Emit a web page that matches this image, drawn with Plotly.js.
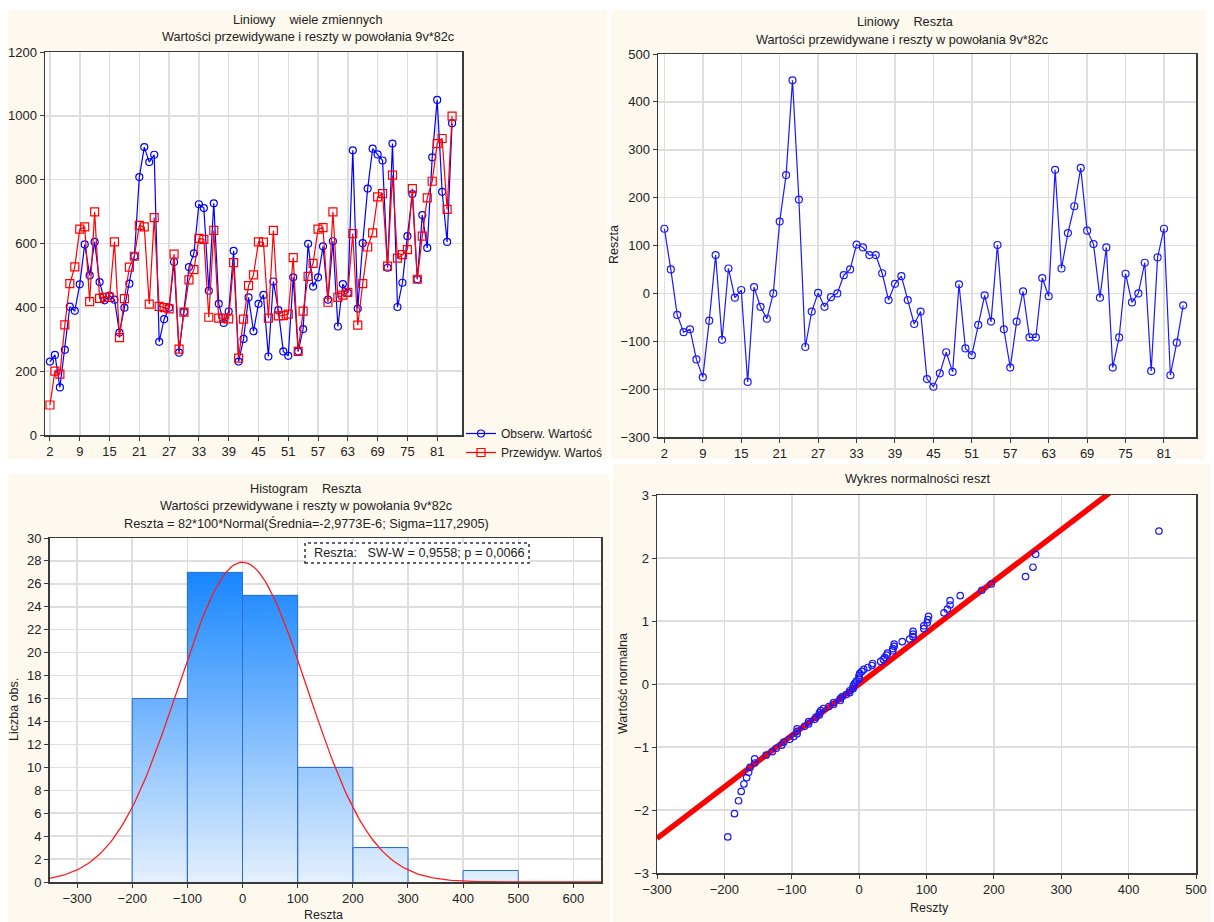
<!DOCTYPE html>
<html><head><meta charset="utf-8">
<script src="https://cdn.plot.ly/plotly-3.0.1.min.js"></script>
<style>html,body{margin:0;padding:0;background:#fff;} #chart{width:1214px;height:922px;}</style>
</head><body><div id="chart"></div>
<script>
// ---------- DATA ----------
const tickPositions = [1, 7, 13, 19, 25, 31, 37, 43, 49, 55, 61, 67, 73, 79];
const tickLabels = ['2','9','15','21','27','33','39','45','51','57','63','69','75','81'];

const observed = [230,251,149,267,402,389,472,597,500,605,479,422,437,424,321,399,474,560,808,902,
  855,878,292,363,399,542,258,385,526,569,723,711,452,726,411,351,387,577,230,301,
  431,325,411,439,246,481,391,262,248,494,262,332,599,465,494,591,424,607,340,473,
  445,892,396,601,772,897,879,860,524,913,401,477,623,755,488,689,586,870,1050,762,
  605,977];
const predicted = [94,200,191,345,474,527,645,652,418,699,428,431,431,605,305,427,526,560,657,652,
  410,681,403,399,395,567,269,385,486,518,616,613,369,641,366,366,364,540,241,363,
  468,502,605,604,366,641,373,374,379,556,262,388,497,538,645,650,416,699,431,438,
  447,631,344,474,589,633,746,756,529,814,554,565,581,772,488,623,743,795,913,929,
  707,999];
const residuals = [135,50,-45,-81,-75,-138,-175,-57,80,-97,52,-9,7,-185,13,-28,-53,0,150,247,
  445,196,-112,-38,1,-28,-8,0,38,50,102,96,80,80,42,-14,20,36,-14,-64,
  -38,-179,-195,-167,-123,-164,19,-115,-129,-66,-4,-59,101,-75,-155,-59,4,-92,-92,32,
  -6,258,52,126,182,262,131,103,-9,96,-155,-92,41,-19,0,64,-162,75,135,-171,
  -103,-25];

const histBinStart = [-200, -100, 0, 100, 200, 300, 400];
const histCounts = [16, 27, 25, 10, 3, 0, 1];
const histBinWidth = 100;

// fitted normal shown in the subtitle: 82*100*Normal(mean, sigma)
const fitN = 82, fitMean = -2.9773e-6, fitSigma = 117.2905;

// reference line of the normal probability plot
const refLineX = [-300, 500];
const refLineY = [-2.45, 4.08];

// ---------- HELPERS ----------
const W = 1214, H = 922;
const px = v => v / W;
const py = v => 1 - v / H;
const FONT = 'Liberation Sans, Arial, sans-serif';
const TXT = '#222';
const caseIndex = observed.map((_, i) => i + 1);

function invNorm(p){
  const a=[-3.969683028665376e+01,2.209460984245205e+02,-2.759285104469687e+02,1.383577518672690e+02,-3.066479806614716e+01,2.506628277459239e+00];
  const b=[-5.447609879822406e+01,1.615858368580409e+02,-1.556989798598866e+02,6.680131188771972e+01,-1.328068155288572e+01];
  const c=[-7.784894002430293e-03,-3.223964580411365e-01,-2.400758277161838e+00,-2.549732539343734e+00,4.374664141464968e+00,2.938163982698783e+00];
  const d=[7.784695709041462e-03,3.224671290700398e-01,2.445134137142996e+00,3.754408661907416e+00];
  const pl=0.02425, ph=1-pl; let q, r;
  if(p<pl){q=Math.sqrt(-2*Math.log(p));return (((((c[0]*q+c[1])*q+c[2])*q+c[3])*q+c[4])*q+c[5])/((((d[0]*q+d[1])*q+d[2])*q+d[3])*q+1);}
  if(p<=ph){q=p-0.5;r=q*q;return (((((a[0]*r+a[1])*r+a[2])*r+a[3])*r+a[4])*r+a[5])*q/(((((b[0]*r+b[1])*r+b[2])*r+b[3])*r+b[4])*r+1);}
  q=Math.sqrt(-2*Math.log(1-p));return -(((((c[0]*q+c[1])*q+c[2])*q+c[3])*q+c[4])*q+c[5])/((((d[0]*q+d[1])*q+d[2])*q+d[3])*q+1);
}

const traces = [];

// ---------- P1: observed vs predicted ----------
traces.push({x: caseIndex, y: observed, xaxis:'x', yaxis:'y', type:'scatter', mode:'lines+markers',
  name:'Obserw. Wartość', line:{color:'#0000ff', width:1.2},
  marker:{symbol:'circle-open', size:7, color:'#0000ff', line:{width:1.2}}});
traces.push({x: caseIndex, y: predicted, xaxis:'x', yaxis:'y', type:'scatter', mode:'lines+markers',
  name:'Przewidyw. Wartoś', line:{color:'#ff0000', width:1.2},
  marker:{symbol:'square-open', size:8, color:'#ff0000', line:{width:1.2}}});

// ---------- P2: residuals ----------
traces.push({x: caseIndex, y: residuals, xaxis:'x2', yaxis:'y2', type:'scatter', mode:'lines+markers',
  showlegend:false, line:{color:'#1a1aff', width:1.2},
  marker:{symbol:'circle-open', size:7, color:'#1a1aff', line:{width:1.2}}});

// ---------- P3: histogram (gradient via stacked slices) ----------
const light = [228, 240, 253], dark = [24, 134, 255];
const maxCount = Math.max(...histCounts);
const step = 0.5;
const binCenters = histBinStart.map(s => s + histBinWidth / 2);
for (let lev = 0; lev < maxCount; lev += step) {
  const t = Math.min(1, (lev + step / 2) / maxCount);
  const col = 'rgb(' + light.map((l, k) => Math.round(l + (dark[k] - l) * t)).join(',') + ')';
  traces.push({type:'bar', xaxis:'x3', yaxis:'y3', showlegend:false, hoverinfo:'skip',
    x: binCenters, width: histCounts.map(() => histBinWidth),
    y: histCounts.map(cnt => Math.max(0, Math.min(step, cnt - lev))),
    marker:{color: col, line:{color: col, width:0.6}}});
}
// outlines
const ox = [], oy = [];
histCounts.forEach((cnt, i) => {
  if (cnt > 0) {
    const s = histBinStart[i];
    ox.push(s, s, s + histBinWidth, s + histBinWidth, null);
    oy.push(0, cnt, cnt, 0, null);
  }
});
traces.push({type:'scatter', mode:'lines', xaxis:'x3', yaxis:'y3', showlegend:false, hoverinfo:'skip',
  x: ox, y: oy, line:{color:'#2d6fd2', width:1}});
// fitted normal curve
const cx = [], cy = [];
for (let v = -350; v <= 650; v += 5) {
  cx.push(v);
  cy.push(fitN * histBinWidth / (fitSigma * Math.sqrt(2 * Math.PI)) * Math.exp(-0.5 * Math.pow((v - fitMean) / fitSigma, 2)));
}
traces.push({type:'scatter', mode:'lines', xaxis:'x3', yaxis:'y3', showlegend:false,
  x: cx, y: cy, line:{color:'#ff1a1a', width:1.3}});

// ---------- P4: normal probability plot ----------
const sortedRes = residuals.slice().sort((a, b) => a - b);
const nRes = sortedRes.length;
const normScores = sortedRes.map((_, i) => invNorm((i + 1 - 0.375) / (nRes + 0.25)));
traces.push({type:'scatter', mode:'lines', xaxis:'x4', yaxis:'y4', showlegend:false,
  x: refLineX, y: refLineY, line:{color:'#ff0000', width:5.5}});
traces.push({type:'scatter', mode:'markers', xaxis:'x4', yaxis:'y4', showlegend:false,
  x: sortedRes, y: normScores,
  marker:{symbol:'circle-open', size:6.5, color:'#1a1aff', line:{width:1.2}}});

// ---------- LAYOUT ----------
const axBase = {showline:true, mirror:true, linecolor:'#3a3a3a', linewidth:1.5,
  ticks:'outside', ticklen:4, tickcolor:'#3a3a3a', tickwidth:1,
  showgrid:true, gridcolor:'#dedede', gridwidth:1.5, zeroline:false,
  tickfont:{family:FONT, size:13, color:TXT}, fixedrange:true};

const plotBoxes = [[45, 462, 52, 435], [658, 1196, 54, 437], [49.5, 601, 538, 882], [657, 1196, 495, 873]];
const panels = [[8, 607, 10, 459], [611, 1206, 10, 459], [8, 610, 474, 922], [613, 1211, 464, 922]];

const layout = {
  width: W, height: H,
  margin:{l:0, r:0, t:0, b:0},
  paper_bgcolor:'#ffffff', plot_bgcolor:'rgba(0,0,0,0)',
  font:{family:FONT, color:TXT},
  barmode:'stack', bargap:0,
  showlegend:true,
  legend:{x: px(461), y: py(419), xanchor:'left', yanchor:'top', bgcolor:'rgba(0,0,0,0)', traceorder:'normal',
    font:{family:FONT, size:12, color:TXT}, itemwidth:30, tracegroupgap:0},
  xaxis: Object.assign({}, axBase, {domain:[px(45), px(462)], range:[0, 84], tickvals: tickPositions, ticktext: tickLabels, anchor:'y'}),
  yaxis: Object.assign({}, axBase, {domain:[py(435), py(52)], range:[0, 1200], dtick:200, anchor:'x'}),
  xaxis2: Object.assign({}, axBase, {domain:[px(658), px(1196)], range:[0, 84], tickvals: tickPositions, ticktext: tickLabels, anchor:'y2'}),
  yaxis2: Object.assign({}, axBase, {domain:[py(437), py(54)], range:[-300, 500], dtick:100, anchor:'x2'}),
  xaxis3: Object.assign({}, axBase, {domain:[px(49.5), px(601)], range:[-350, 650], dtick:100, anchor:'y3'}),
  yaxis3: Object.assign({}, axBase, {domain:[py(882), py(538)], range:[0, 30], dtick:2, anchor:'x3'}),
  xaxis4: Object.assign({}, axBase, {domain:[px(657), px(1196)], range:[-300, 500], dtick:100, anchor:'y4'}),
  yaxis4: Object.assign({}, axBase, {domain:[py(873), py(495)], range:[-3, 3], dtick:1, anchor:'x4'}),
  shapes: [],
  annotations: []
};
panels.forEach(p => layout.shapes.push({type:'rect', xref:'paper', yref:'paper', layer:'below',
  x0:px(p[0]), x1:px(p[1]), y0:py(p[3]), y1:py(p[2]), fillcolor:'#fef9ef', line:{width:0}}));
plotBoxes.forEach(p => layout.shapes.push({type:'rect', xref:'paper', yref:'paper', layer:'below',
  x0:px(p[0]), x1:px(p[1]), y0:py(p[3]), y1:py(p[2]), fillcolor:'#ffffff', line:{width:0}}));
layout.shapes.push({type:'rect', xref:'paper', yref:'paper', layer:'above', x0:px(305), x1:px(529), y0:py(563), y1:py(543),
  fillcolor:'#ffffff', line:{color:'#333', width:1.5, dash:'dot'}});

function ann(text, x, y, opts) {
  layout.annotations.push(Object.assign({text: text, xref:'paper', yref:'paper', x: px(x), y: py(y),
    xanchor:'center', yanchor:'middle', showarrow:false, font:{family:FONT, size:12.7, color:TXT}}, opts || {}));
}
const sp = '\u00a0\u00a0\u00a0\u00a0';
ann('Liniowy' + sp + 'wiele zmiennych', 308, 20);
ann('Wartości przewidywane i reszty w powołania 9v*82c', 308, 37);
ann('Liniowy' + sp + 'Reszta', 905, 22);
ann('Wartości przewidywane i reszty w powołania 9v*82c', 902, 40);
ann('Reszta', 614, 245, {textangle:-90, font:{family:FONT, size:12.5, color:TXT}});
ann('Histogram' + sp + 'Reszta', 306, 489);
ann('Wartości przewidywane i reszty w powołania 9v*82c', 306, 506);
ann('Reszta = 82*100*Normal(Średnia=-2,9773E-6; Sigma=117,2905)', 306, 523);
ann('Reszta:\u00a0\u00a0\u00a0SW-W = 0,9558; p = 0,0066', 312, 553, {xanchor:'left', font:{family:FONT, size:12.7, color:TXT}});
ann('Liczba obs.', 14, 710, {textangle:-90, font:{family:FONT, size:12.5, color:TXT}});
ann('Reszta', 323, 915, {font:{family:FONT, size:12.5, color:TXT}});
ann('Wykres normalności reszt', 918, 479);
ann('Reszty', 929, 908, {font:{family:FONT, size:12.5, color:TXT}});
ann('Wartość normalna', 623, 684, {textangle:-90, font:{family:FONT, size:12.5, color:TXT}});

Plotly.newPlot('chart', traces, layout, {staticPlot:true, displayModeBar:false});
</script></body></html>
